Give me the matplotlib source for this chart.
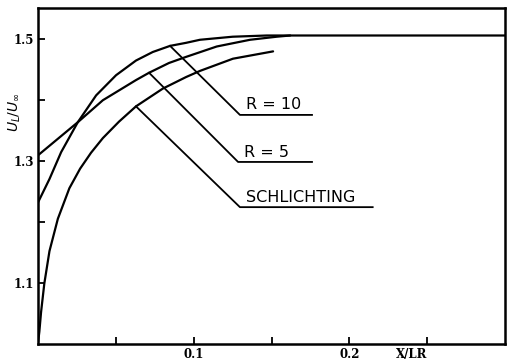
import matplotlib
matplotlib.use("Agg")
import matplotlib.pyplot as plt
import numpy as np

# curves
r10_x = [0.0, 0.0073, 0.0148, 0.0255, 0.0373, 0.0501, 0.0629, 0.0737, 0.0848,
         0.0951, 0.104, 0.125, 0.147, 0.168, 0.300]
r10_y = [1.232, 1.270, 1.314, 1.363, 1.407, 1.440, 1.464, 1.478, 1.488,
         1.493, 1.498, 1.503, 1.505, 1.505, 1.505]

r5_x = [0.0, 0.0255, 0.0416, 0.0629, 0.0713, 0.0841, 0.0951, 0.1148, 0.1362, 0.1533, 0.162]
r5_y = [1.309, 1.363, 1.399, 1.432, 1.444, 1.460, 1.470, 1.487, 1.498, 1.503, 1.505]

sch_x = [0.0, 0.0008, 0.0019, 0.0040, 0.0073, 0.0127, 0.0201, 0.027, 0.034, 0.0416,
         0.052, 0.0629, 0.0801, 0.0951, 0.104, 0.1252, 0.151]
sch_y = [1.003, 1.020, 1.052, 1.099, 1.152, 1.205, 1.255, 1.287, 1.313, 1.337,
         1.364, 1.389, 1.418, 1.437, 1.447, 1.467, 1.479]

labels = ['R = 10', 'R = 5', 'SCHLICHTING']
leader_at = [0.0848, 0.0713, 0.0629]        # x where each leader leaves its curve
label_pos = [(0.1297, 1.375), (0.1285, 1.298), (0.1297, 1.224)]
label_end = [0.176, 0.176, 0.215]

fig = plt.figure(figsize=(5.08, 3.64), dpi=100)
ax = fig.add_axes([0.075, 0.055, 0.919, 0.923])

curves = [(r10_x, r10_y), (r5_x, r5_y), (sch_x, sch_y)]
for (cx, cy) in curves:
    ax.plot(cx, cy, color='k', lw=1.6, solid_joinstyle='round', solid_capstyle='round')

# leaders + underlined labels
for (cx, cy), name, xa, (lx, ly), le in zip(curves, labels, leader_at, label_pos, label_end):
    ya = np.interp(xa, cx, cy)
    ax.plot([xa, lx, le], [ya, ly, ly], color='k', lw=1.3)
    ax.text(lx + 0.004, ly + 0.004, name, fontsize=11.5, family='DejaVu Sans',
            ha='left', va='bottom')

ax.set_xlim(0, 0.3)
ax.set_ylim(1.0, 1.55)

ax.set_xticks([0.05, 0.1, 0.15, 0.2, 0.25])
ax.set_xticklabels(['', '0.1', '', '0.2', ''])
ax.set_yticks([1.1, 1.2, 1.3, 1.4, 1.5])
ax.set_yticklabels(['1.1', '', '1.3', '', '1.5'])
ax.tick_params(direction='in', length=5, width=1.3, pad=3)
for t in ax.get_xticklabels() + ax.get_yticklabels():
    t.set_family('DejaVu Serif')
    t.set_fontweight('bold')
    t.set_fontsize(8.5)

ax.set_xlabel('X/LR', family='DejaVu Serif', fontweight='bold', fontsize=8.5)
ax.xaxis.set_label_coords(0.80, -0.012)
ax.xaxis.label.set_va('top')
ax.set_ylabel(r'$U_L/U_\infty$', family='DejaVu Serif', fontsize=10)
ax.yaxis.label.set_va('center')
ax.yaxis.set_label_coords(-0.05, 0.69)

for s in ax.spines.values():
    s.set_linewidth(1.8)

fig.savefig('out.png', dpi=100)
